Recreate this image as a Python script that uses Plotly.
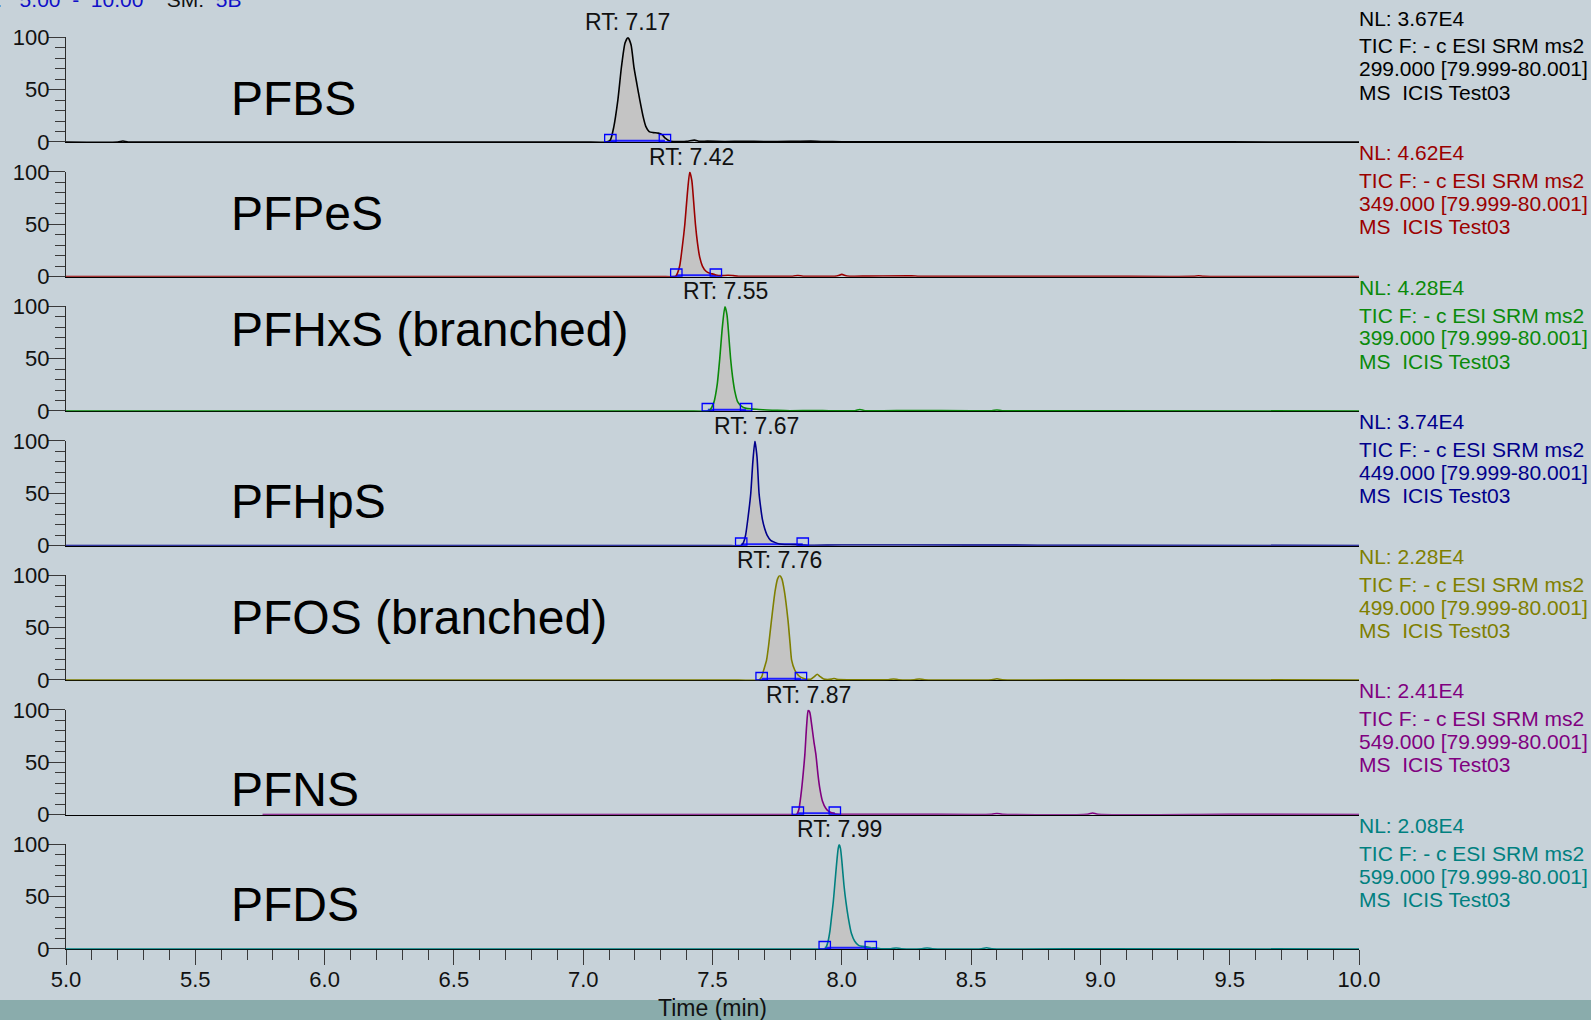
import plotly.graph_objects as go

W, H = 1591, 1020
BG = "#c7d2d9"
FONT = "Liberation Sans, Arial, sans-serif"

names = ["PFBS", "PFPeS", "PFHxS (branched)", "PFHpS", "PFOS (branched)", "PFNS", "PFDS"]
rt_labels = [7.17, 7.42, 7.55, 7.67, 7.76, 7.87, 7.99]
nl_values = ["3.67E4", "4.62E4", "4.28E4", "3.74E4", "2.28E4", "2.41E4", "2.08E4"]
precursors = ["299.000", "349.000", "399.000", "449.000", "499.000", "549.000", "599.000"]
colors = ["#000000", "#9b0000", "#0a8a0a", "#00008b", "#7f7f00", "#800080", "#008080"]
peak_start = [7.105, 7.36, 7.482, 7.611, 7.69, 7.83, 7.934]
peak_end = [7.316, 7.513, 7.63, 7.849, 7.842, 7.973, 8.112]

# chromatogram traces (time in min, relative abundance in %)
t1 = [5.00, 5.20, 5.22, 5.24, 5.40, 6.00, 6.60, 7.00, 7.09, 7.105, 7.118, 7.134, 7.148, 7.162, 7.173,
      7.185, 7.196, 7.208, 7.219, 7.232, 7.242, 7.255, 7.27, 7.29, 7.305, 7.316, 7.335, 7.36, 7.40,
      7.43, 7.45, 7.48, 7.55, 7.62, 7.70, 7.80, 7.88, 7.92, 8.00, 8.50, 9.00, 9.50, 10.00]
y1 = [0, 0, 0.9, 0, 0, 0, 0, 0, 0, 2, 14, 40, 72, 95, 100,
      93, 72, 55, 40, 24, 15, 10, 9, 8.5, 7, 4, 1, 0.5, 0.6,
      1.8, 0.6, 0.8, 0.5, 0.7, 0.5, 0.6, 0.8, 0.5, 0.3, 0.2, 0.2, 0.1, 0]

t2 = [5.0, 6.0, 7.0, 7.30, 7.355, 7.36, 7.373, 7.383, 7.393, 7.403, 7.412, 7.420, 7.427, 7.434, 7.442,
      7.451, 7.461, 7.475, 7.49, 7.50, 7.513, 7.53, 7.56, 7.58, 7.60, 7.70, 7.81, 7.83, 7.85, 7.98,
      8.00, 8.02, 8.10, 8.27, 8.30, 9.00, 9.36, 9.38, 9.40, 10.0]
y2 = [0, 0, 0, 0, 0, 1, 10, 28, 50, 80, 100, 92, 72, 50, 32,
      18, 10, 5, 3, 2.5, 1.5, 0.8, 1.2, 0.8, 0.3, 0.3, 0.3, 1, 0.3, 0.5,
      2, 0.5, 0.4, 0.6, 0.2, 0.2, 0.2, 0.7, 0.2, 0]

t3 = [5.0, 6.0, 7.0, 7.40, 7.482, 7.49, 7.505, 7.518, 7.528, 7.538, 7.548, 7.556, 7.563, 7.570, 7.578,
      7.587, 7.597, 7.61, 7.63, 7.65, 7.68, 7.71, 7.75, 7.80, 7.90, 7.95, 8.05, 8.07, 8.09, 8.27,
      8.50, 8.58, 8.60, 8.62, 9.0, 10.0]
y3 = [0, 0, 0, 0, 0, 1, 8, 25, 50, 80, 100, 92, 72, 50, 32,
      18, 9, 5, 2.5, 2, 1.5, 1, 0.6, 0.3, 0.5, 0.2, 0.3, 1.5, 0.3, 0.5,
      0.2, 0.3, 1, 0.3, 0.2, 0]

t4 = [5.0, 6.0, 7.0, 7.55, 7.611, 7.62, 7.628, 7.638, 7.648, 7.656, 7.664, 7.672, 7.680, 7.687, 7.693,
      7.702, 7.711, 7.725, 7.741, 7.76, 7.78, 7.80, 7.82, 7.849, 7.88, 8.00, 8.5, 9.0, 10.0]
y4 = [0, 0, 0, 0, 0, 3, 10, 28, 50, 80, 100, 85, 50, 35, 25,
      16, 10, 5, 3, 1.5, 1, 1, 0.8, 0.5, 0.2, 0.5, 0.4, 0.2, 0]

t5 = [5.0, 6.0, 7.0, 7.60, 7.68, 7.69, 7.698, 7.709, 7.718, 7.728, 7.742, 7.752, 7.760, 7.768, 7.778,
      7.792, 7.800, 7.806, 7.818, 7.830, 7.842, 7.86, 7.88, 7.895, 7.905, 7.915, 7.93, 7.96, 7.97,
      7.98, 8.05, 8.18, 8.20, 8.22, 8.28, 8.30, 8.32, 8.58, 8.60, 8.62, 9.0, 10.0]
y5 = [0, 0, 0, 0, 0, 3, 9.6, 19, 35, 57, 85, 97, 100, 97, 85,
      57, 35, 19, 9.6, 5, 2.5, 1, 0.8, 3.5, 5.5, 3.5, 1, 0.8, 1.5,
      0.8, 0.3, 0.3, 1, 0.3, 0.3, 1, 0.3, 0.3, 1.2, 0.3, 0.2, 0]

t6 = [5.76, 6.5, 7.0, 7.5, 7.80, 7.825, 7.830, 7.835, 7.845, 7.851, 7.857, 7.864, 7.870, 7.876, 7.884,
      7.892, 7.900, 7.908, 7.915, 7.925, 7.938, 7.95, 7.973, 8.00, 8.3, 8.58, 8.60, 8.62, 8.95,
      8.97, 8.99, 9.5, 10.0]
y6 = [0, 0, 0, 0, 0, 0, 2, 6, 25, 40, 57, 85, 100, 98, 85,
      70, 57, 38, 25, 13, 6, 3, 0.8, 0.3, 0.2, 0.2, 1, 0.2, 0.2,
      1.5, 0.2, 0.2, 0]

t7 = [5.0, 6.0, 7.0, 7.5, 7.90, 7.934, 7.940, 7.947, 7.954, 7.960, 7.967, 7.973, 7.980, 7.986, 7.990,
      7.995, 8.001, 8.008, 8.016, 8.025, 8.037, 8.050, 8.065, 8.08, 8.096, 8.112, 8.13, 8.15, 8.19,
      8.21, 8.23, 8.31, 8.33, 8.35, 8.54, 8.56, 8.58, 9.0, 10.0]
y7 = [0, 0, 0, 0, 0, 0, 2, 7.4, 17, 30, 45, 62, 82, 96, 100,
      96, 82, 62, 45, 30, 15, 7.4, 3.5, 2.5, 2, 1, 1.2, 0.3, 0.3,
      1, 0.3, 0.3, 1, 0.3, 0.3, 1.2, 0.3, 0.2, 0]

times = [t1, t2, t3, t4, t5, t6, t7]
intens = [y1, y2, y3, y4, y5, y6, y7]

# panel name label heights (% of panel) and layout constants
name_y = [42, 60, 78, 42, 60, 24, 43]

X0_PX, X1_PX = 66, 1359
BASE0, STEP, UNIT = 142.0, 134.5, 1.045
YMIN, YMAX = -0.3, 100.3

fig = go.Figure()
layout = dict(
    width=W, height=H, autosize=False,
    margin=dict(l=0, r=0, t=0, b=0, pad=0, autoexpand=False),
    paper_bgcolor=BG, plot_bgcolor=BG,
    showlegend=False,
    font=dict(family=FONT, size=22, color="#111111"),
)
annotations = []
shapes = []


def py(px):
    return 1 - px / H


for i in range(7):
    k = i + 1
    b = BASE0 + STEP * i
    xs, ys = times[i], intens[i]
    col = colors[i]
    xa, ya = f"x{k}", f"y{k}"
    # integrated area fill
    fx = [t for t in xs if peak_start[i] <= t <= peak_end[i]]
    fy = [v for t, v in zip(xs, ys) if peak_start[i] <= t <= peak_end[i]]
    fig.add_trace(go.Scatter(x=fx, y=fy, mode="lines", fill="tozeroy", fillcolor="#c4c4c4",
                             line=dict(width=0, shape="spline", smoothing=0.6),
                             xaxis=xa, yaxis=ya, hoverinfo="skip"))
    # integration baseline
    fig.add_trace(go.Scatter(x=[peak_start[i], peak_end[i]], y=[1.2, 1.2], mode="lines",
                             line=dict(color="#1f1fff", width=2), xaxis=xa, yaxis=ya))
    # chromatogram
    fig.add_trace(go.Scatter(x=xs, y=ys, mode="lines",
                             line=dict(color=col, width=1.6, shape="spline", smoothing=0.6),
                             xaxis=xa, yaxis=ya))
    # integration markers
    for t in (peak_start[i], peak_end[i]):
        shapes.append(dict(type="rect", xref=xa, yref=ya, x0=t - 0.022, x1=t + 0.022,
                           y0=0, y1=7.2, line=dict(color="#0000ff", width=1.3),
                           fillcolor="rgba(0,0,0,0)", layer="above"))

    dom = [py(b + (-YMIN) * UNIT), py(b - YMAX * UNIT)]
    last = (k == 7)
    xax = dict(domain=[X0_PX / W, X1_PX / W], range=[5, 10], anchor=ya, automargin=False,
               showline=True, linecolor="#000000", linewidth=1.2, showgrid=False,
               zeroline=False, layer="below traces", fixedrange=True)
    if last:
        xax.update(tickmode="linear", tick0=5, dtick=0.5, ticks="outside", ticklen=15,
                   tickcolor="#3a3a3a", tickwidth=1.3, tickformat=".1f",
                   ticklabelstandoff=-5,
                   tickfont=dict(size=22, color="#111111", family=FONT),
                   minor=dict(ticks="outside", dtick=0.1, tick0=5, ticklen=10,
                              tickcolor="#3a3a3a", tickwidth=1.3, showgrid=False))
    else:
        xax.update(ticks="", showticklabels=False)
    yax = dict(domain=dom, range=[YMIN, YMAX], anchor=xa, automargin=False,
               showline=True, linecolor="#2a2a2a", linewidth=1.3, showgrid=False,
               zeroline=False, layer="below traces", fixedrange=True,
               tickmode="linear", tick0=0, dtick=50, ticks="outside", ticklen=17,
               tickcolor="#3a3a3a", tickwidth=1.3, ticklabelstandoff=-6,
               tickfont=dict(size=22, color="#111111", family=FONT),
               minor=dict(ticks="outside", dtick=10, tick0=0, ticklen=10,
                          tickcolor="#3a3a3a", tickwidth=1.3, showgrid=False))
    layout[f"xaxis{k}"] = xax
    layout[f"yaxis{k}"] = yax

    # RT label
    annotations.append(dict(xref=xa, yref="paper", x=rt_labels[i], y=py(b - 120),
                            text=f"RT: {rt_labels[i]:.2f}", showarrow=False,
                            xanchor="center", yanchor="middle",
                            font=dict(size=23, color="#111111", family=FONT)))
    # compound name
    annotations.append(dict(xref="paper", yref="paper", x=229 / W, y=py(b - name_y[i] * UNIT),
                            text=names[i], showarrow=False, xanchor="left", yanchor="middle",
                            font=dict(size=48, color="#000000", family=FONT)))
    # right-side info
    lines = [(f"NL: {nl_values[i]}", 124), ("TIC F: - c ESI SRM ms2", 96),
             (f"{precursors[i]} [79.999-80.001]", 73), ("MS\u00a0 ICIS Test03", 50)]
    for txt, off in lines:
        annotations.append(dict(xref="paper", yref="paper", x=1357 / W, y=py(b - off),
                                text=txt, showarrow=False, xanchor="left", yanchor="middle",
                                font=dict(size=21, color=col, family=FONT)))

# top-left range header (partly cut off)
nb = "\u00a0"
hdr = (f"<span style='color:#1010c8'>RT:{nb*3}5.00{nb*2}-{nb*2}10.00</span>{nb*4}SM:{nb*2}"
       f"<span style='color:#1010c8'>5B</span>")
annotations.append(dict(xref="paper", yref="paper", x=-31.5 / W, y=py(-1), text=hdr,
                        showarrow=False, xanchor="left", yanchor="middle",
                        font=dict(size=21, color="#111111", family=FONT)))

# bottom band and axis title
shapes.append(dict(type="rect", xref="paper", yref="paper", x0=0, x1=1, y0=0, y1=20 / H,
                   fillcolor="#8aacac", line=dict(width=0), layer="below"))
annotations.append(dict(xref="paper", yref="paper", x=712 / W, y=py(1008), text="Time (min)",
                        showarrow=False, xanchor="center", yanchor="middle",
                        font=dict(size=23, color="#111111", family=FONT)))

layout["annotations"] = annotations
layout["shapes"] = shapes
fig.update_layout(**layout)
fig.write_html("out.html", config={"displayModeBar": False},
               post_script="document.body.style.margin='0';document.body.style.padding='0';"
                           "document.body.style.overflow='hidden';")
